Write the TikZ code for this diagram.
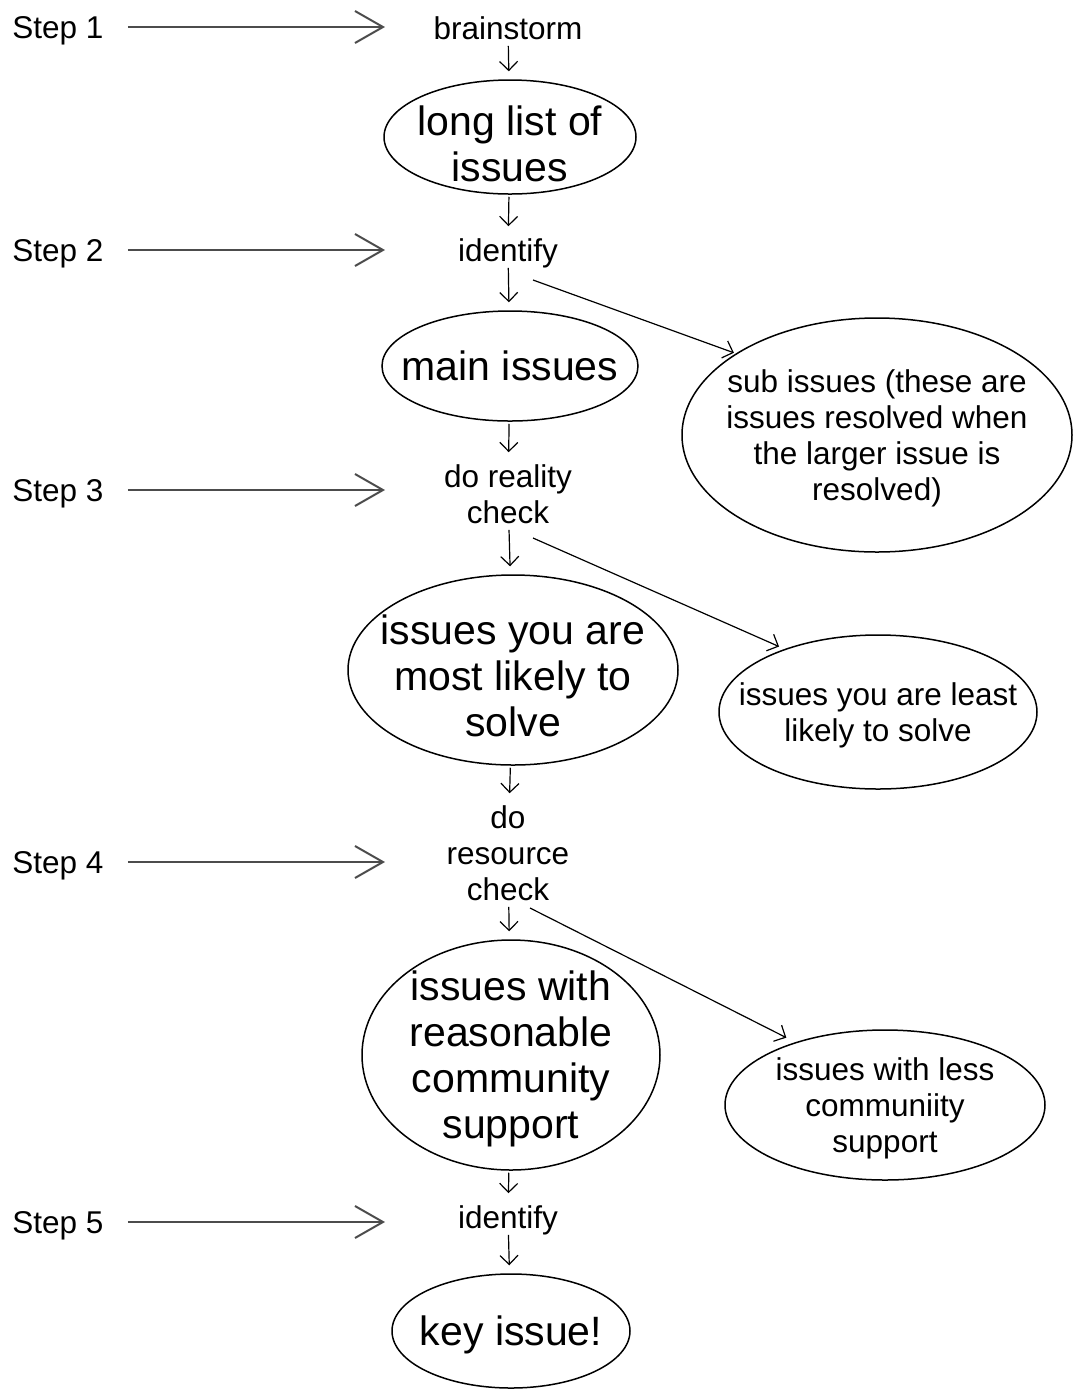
\documentclass[tikz,border=0pt]{standalone}
\usepackage{fontspec}
\setmainfont{Liberation Sans}
\usetikzlibrary{shapes.geometric,arrows.meta}

\begin{document}
\begin{tikzpicture}[x=0.5pt,y=-0.5pt,
   small/.style={font=\fontsize{15.75}{18}\selectfont, align=center, inner sep=2pt, text depth=0pt},
   big/.style={draw, ellipse, line width=0.75pt, inner sep=-14pt, text depth=0pt, font=\fontsize{20.5}{23}\selectfont, align=center},
   side/.style={draw, ellipse, line width=0.75pt, inner sep=-14pt, text depth=-1pt, font=\fontsize{15.75}{18}\selectfont, align=center},
   flow/.style={-{Straight Barb[length=4.5pt,width=9pt]}, line width=0.6pt, shorten <=1pt, shorten >=4pt},
   stepline/.style={-{Straight Barb[length=14pt,width=16pt]}, line width=1pt, black!70, shorten <=10pt}]%
   \useasboundingbox (0,0) rectangle (1073,1389);
   % steps on the left
   \foreach \n/\y in {1/27, 2/250, 3/490, 4/862, 5/1222} {
      \node[small] (s\n) at (58,\y) {Step \n};
      \coordinate (t\n) at (385,\y);
      \draw[stepline] (s\n) -- (t\n);
   }
   % main column
   \node[small] (bs) at (508,28) {brainstorm};
   \node[big, minimum width=126pt, minimum height=57pt] (ll) at (510,137) {\rule{0pt}{21pt}long list of\\issues};
   \node[small] (id2) at (508,250) {identify};
   \node[big, minimum width=128pt, minimum height=55pt] (main) at (510,366) {main issues};
   \node[small] (real) at (508,494) {do reality\\check};
   \node[big, minimum width=165pt, minimum height=95pt] (likely) at (513,670) {\rule{0pt}{20pt}issues you are\\most likely to\\solve};
   \node[small] (res) at (508,853) {do\\resource\\check};
   \node[big, minimum width=149pt, minimum height=115pt] (reas) at (511,1055) {issues with\\reasonable\\community\\support};
   \node[small] (id5) at (508,1217) {identify};
   \node[big, minimum width=119pt, minimum height=57pt] (key) at (511,1331) {key issue!};
   % side column
   \node[side, minimum width=195pt, minimum height=117pt] (sub) at (877,435) {sub issues (these are\\issues resolved when\\the larger issue is\\resolved)};
   \node[side, minimum width=159pt, minimum height=77pt] (least) at (878,712) {issues you are least\\likely to solve};
   \node[side, minimum width=160pt, minimum height=75pt] (less) at (885,1105) {issues with less\\communiity\\support};
   \draw[flow] (bs) -- (ll);
   \draw[flow] (ll) -- (id2);
   \draw[flow] (id2) -- (main);
   \draw[flow] (main) -- (real);
   \draw[flow] (real) -- (likely);
   \draw[flow] (likely) -- (res);
   \draw[flow] (res) -- (reas);
   \draw[flow] (reas) -- (id5);
   \draw[flow] (id5) -- (key);
   \coordinate (b2) at (533,280);
   \coordinate (b3) at (533,538);
   \coordinate (b4) at (530,908);
   \draw[flow, shorten <=0pt, shorten >=1pt] (b2) -- (sub.150);
   \draw[flow, shorten <=0pt, shorten >=3pt] (b3) -- (least.146);
   \draw[flow, shorten <=0pt, shorten >=5pt] (b4) -- (less.145);
\end{tikzpicture}
\end{document}
